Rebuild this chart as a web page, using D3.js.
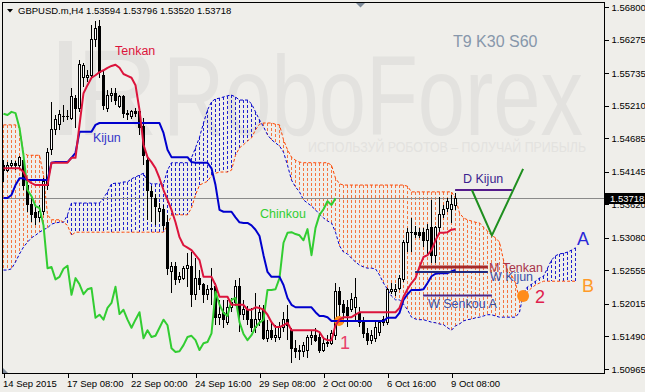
<!DOCTYPE html>
<html>
<head>
<meta charset="utf-8">
<script src="https://cdn.jsdelivr.net/npm/d3@7"></script>
<style>
  body { margin: 0; background: #efeeea; }
  svg { display: block; }
  text { font-family: "Liberation Sans", Arial, sans-serif; }
</style>
</head>
<body>
<div id="chart"></div>
<script>
// GBPUSD H4 bars, one entry per bar (14 Sep 2015 -> 9 Oct 2015)
var opens = [
  1.5424, 1.5417, 1.5424, 1.5427, 1.5424, 1.5433, 1.5393, 1.5361, 1.5348, 1.5340,
  1.5350, 1.5393, 1.5450, 1.5482, 1.5491, 1.5504, 1.5503, 1.5501, 1.5533, 1.5517,
  1.5566, 1.5567, 1.5569, 1.5627, 1.5648, 1.5570, 1.5517, 1.5537, 1.5540, 1.5520,
  1.5535, 1.5508, 1.5503, 1.5511, 1.5511, 1.5488, 1.5433, 1.5382, 1.5372, 1.5350,
  1.5353, 1.5333, 1.5254, 1.5261, 1.5240, 1.5243, 1.5259, 1.5261, 1.5216, 1.5243,
  1.5233, 1.5216, 1.5224, 1.5229, 1.5179, 1.5187, 1.5172, 1.5195, 1.5203, 1.5229,
  1.5185, 1.5192, 1.5176, 1.5163, 1.5176, 1.5192, 1.5146, 1.5159, 1.5148, 1.5148,
  1.5164, 1.5176, 1.5159, 1.5130, 1.5127, 1.5124, 1.5127, 1.5148, 1.5150, 1.5148,
  1.5127, 1.5138, 1.5138, 1.5151, 1.5222, 1.5200, 1.5196, 1.5192, 1.5196, 1.5188,
  1.5172, 1.5154, 1.5143, 1.5146, 1.5156, 1.5171, 1.5172, 1.5222, 1.5221, 1.5227,
  1.5240, 1.5300, 1.5316, 1.5316, 1.5316, 1.5316, 1.5304, 1.5324, 1.5280, 1.5324,
  1.5345, 1.5356, 1.5354, 1.53594
];
var highs = [
  1.5433, 1.5430, 1.5433, 1.5432, 1.5440, 1.5440, 1.5398, 1.5372, 1.5361, 1.5361,
  1.5404, 1.5453, 1.5527, 1.5506, 1.5514, 1.5522, 1.5514, 1.5549, 1.5538, 1.5595,
  1.5590, 1.5578, 1.5651, 1.5657, 1.5659, 1.5578, 1.5546, 1.5549, 1.5549, 1.5538,
  1.5538, 1.5514, 1.5514, 1.5517, 1.5517, 1.5501, 1.5437, 1.5391, 1.5379, 1.5364,
  1.5361, 1.5345, 1.5269, 1.5269, 1.5253, 1.5263, 1.5283, 1.5285, 1.5275, 1.5256,
  1.5235, 1.5232, 1.5259, 1.5235, 1.5208, 1.5208, 1.5208, 1.5211, 1.5240, 1.5243,
  1.5208, 1.5198, 1.5195, 1.5219, 1.5200, 1.5200, 1.5176, 1.5172, 1.5167, 1.5172,
  1.5188, 1.5200, 1.5163, 1.5143, 1.5135, 1.5140, 1.5151, 1.5159, 1.5163, 1.5154,
  1.5146, 1.5151, 1.5159, 1.5235, 1.5229, 1.5208, 1.5208, 1.5219, 1.5243, 1.5196,
  1.5180, 1.5163, 1.5159, 1.5172, 1.5176, 1.5182, 1.5227, 1.5235, 1.5233, 1.5248,
  1.5304, 1.5324, 1.5340, 1.5327, 1.5324, 1.5324, 1.5330, 1.5369, 1.5327, 1.5374,
  1.5361, 1.5372, 1.5377, 1.53796
];
var lows = [
  1.5398, 1.5414, 1.5420, 1.5417, 1.5420, 1.5385, 1.5350, 1.5333, 1.5328, 1.5333,
  1.5345, 1.5385, 1.5441, 1.5474, 1.5482, 1.5495, 1.5498, 1.5498, 1.5485, 1.5511,
  1.5551, 1.5559, 1.5566, 1.5616, 1.5566, 1.5514, 1.5511, 1.5527, 1.5522, 1.5517,
  1.5501, 1.5498, 1.5499, 1.5503, 1.5474, 1.5425, 1.5337, 1.5333, 1.5328, 1.5333,
  1.5321, 1.5248, 1.5219, 1.5232, 1.5235, 1.5240, 1.5229, 1.5196, 1.5208, 1.5224,
  1.5203, 1.5208, 1.5200, 1.5167, 1.5167, 1.5163, 1.5167, 1.5188, 1.5198, 1.5156,
  1.5176, 1.5167, 1.5156, 1.5154, 1.5166, 1.5143, 1.5140, 1.5143, 1.5140, 1.5143,
  1.5156, 1.5143, 1.5106, 1.5114, 1.5111, 1.5116, 1.5114, 1.5135, 1.5140, 1.5122,
  1.5124, 1.5132, 1.5135, 1.5143, 1.5180, 1.5171, 1.5164, 1.5188, 1.5176, 1.5164,
  1.5146, 1.5135, 1.5137, 1.5140, 1.5150, 1.5166, 1.5167, 1.5217, 1.5214, 1.5224,
  1.5237, 1.5285, 1.5285, 1.5308, 1.5308, 1.5293, 1.5280, 1.5267, 1.5267, 1.5317,
  1.5340, 1.5350, 1.5332, 1.53520
];
var closes = [
  1.5417, 1.5424, 1.5427, 1.5424, 1.5437, 1.5393, 1.5361, 1.5345, 1.5340, 1.5351,
  1.5398, 1.5446, 1.5482, 1.5498, 1.5506, 1.5504, 1.5504, 1.5535, 1.5517, 1.5587,
  1.5585, 1.5570, 1.5627, 1.5646, 1.5574, 1.5522, 1.5538, 1.5540, 1.5530, 1.5535,
  1.5508, 1.5506, 1.5511, 1.5509, 1.5485, 1.5441, 1.5385, 1.5375, 1.5359, 1.5356,
  1.5328, 1.5259, 1.5261, 1.5241, 1.5245, 1.5258, 1.5263, 1.5216, 1.5243, 1.5233,
  1.5217, 1.5225, 1.5227, 1.5179, 1.5184, 1.5176, 1.5195, 1.5203, 1.5229, 1.5185,
  1.5192, 1.5176, 1.5163, 1.5176, 1.5188, 1.5146, 1.5159, 1.5148, 1.5150, 1.5163,
  1.5176, 1.5167, 1.5130, 1.5124, 1.5125, 1.5135, 1.5148, 1.5150, 1.5143, 1.5127,
  1.5138, 1.5140, 1.5154, 1.5221, 1.5200, 1.5187, 1.5182, 1.5208, 1.5211, 1.5172,
  1.5153, 1.5143, 1.5151, 1.5164, 1.5171, 1.5176, 1.5224, 1.5224, 1.5225, 1.5243,
  1.5300, 1.5316, 1.5317, 1.5314, 1.5312, 1.5304, 1.5322, 1.5280, 1.5324, 1.5345,
  1.5354, 1.5367, 1.5361, 1.53718
];

// Ichimoku (9, 30, 60)
var tenkan = [
  1.5420, 1.5420, 1.5420, 1.5420, 1.5420, 1.5414, 1.5401, 1.5396, 1.5393, 1.5393,
  1.5393, 1.5393, 1.5429, 1.5429, 1.5429, 1.5429, 1.5429, 1.5437, 1.5437, 1.5490,
  1.5541, 1.5554, 1.5566, 1.5570, 1.5575, 1.5578, 1.5582, 1.5585, 1.5587, 1.5582,
  1.5572, 1.5569, 1.5566, 1.5554, 1.5514, 1.5458, 1.5438, 1.5430, 1.5420, 1.5404,
  1.5385, 1.5369, 1.5353, 1.5333, 1.5309, 1.5296, 1.5292, 1.5288, 1.5280, 1.5272,
  1.5245, 1.5245, 1.5245, 1.5232, 1.5213, 1.5213, 1.5213, 1.5200, 1.5200, 1.5200,
  1.5200, 1.5192, 1.5192, 1.5196, 1.5195, 1.5192, 1.5184, 1.5172, 1.5164, 1.5164,
  1.5167, 1.5171, 1.5159, 1.5159, 1.5159, 1.5159, 1.5159, 1.5159, 1.5159, 1.5156,
  1.5146, 1.5143, 1.5143, 1.5167, 1.5176, 1.5180, 1.5180, 1.5180, 1.5184, 1.5188,
  1.5188, 1.5188, 1.5188, 1.5188, 1.5188, 1.5188, 1.5188, 1.5188, 1.5188, 1.5195,
  1.5213, 1.5225, 1.5235, 1.5243, 1.5261, 1.5277, 1.5280, 1.5288, 1.5304, 1.5316,
  1.5316, 1.5317, 1.5321, 1.5322
];
var kijun = [
  1.5372, 1.5372, 1.5377, 1.5393, 1.5404, 1.5404, 1.5401, 1.5401, 1.5401, 1.5401,
  1.5401, 1.5401, 1.5429, 1.5430, 1.5430, 1.5430, 1.5430, 1.5437, 1.5445, 1.5479,
  1.5479, 1.5479, 1.5479, 1.5490, 1.5493, 1.5493, 1.5493, 1.5493, 1.5493, 1.5493,
  1.5493, 1.5493, 1.5493, 1.5493, 1.5493, 1.5493, 1.5493, 1.5493, 1.5493, 1.5493,
  1.5477, 1.5450, 1.5438, 1.5438, 1.5438, 1.5438, 1.5438, 1.5430, 1.5429, 1.5429,
  1.5429, 1.5429, 1.5420, 1.5393, 1.5353, 1.5350, 1.5350, 1.5350, 1.5341, 1.5333,
  1.5332, 1.5332, 1.5328, 1.5321, 1.5311, 1.5280, 1.5253, 1.5245, 1.5245, 1.5245,
  1.5232, 1.5211, 1.5200, 1.5196, 1.5196, 1.5196, 1.5196, 1.5196, 1.5188, 1.5182,
  1.5182, 1.5180, 1.5174, 1.5174, 1.5174, 1.5174, 1.5174, 1.5174, 1.5174, 1.5174,
  1.5174, 1.5174, 1.5174, 1.5174, 1.5174, 1.5174, 1.5179, 1.5179, 1.5179, 1.5187,
  1.5208, 1.5217, 1.5224, 1.5224, 1.5224, 1.5225, 1.5235, 1.5246, 1.5250, 1.5251,
  1.5251, 1.5251, 1.5254, 1.5256
];
// spans already shifted 30 bars forward (so 30 values beyond the last bar)
var senkouA = [
  1.5256, 1.5256, 1.5258, 1.5269, 1.5282, 1.5293, 1.5301, 1.5308, 1.5312, 1.5317,
  1.5321, 1.5324, 1.5330, 1.5332, 1.5333, 1.5333, 1.5345, 1.5364, 1.5364, 1.5364,
  1.5364, 1.5364, 1.5364, 1.5364, 1.5364, 1.5372, 1.5382, 1.5395, 1.5396, 1.5396,
  1.5398, 1.5398, 1.5403, 1.5406, 1.5409, 1.5412, 1.5398, 1.5395, 1.5395, 1.5395,
  1.5395, 1.5417, 1.5429, 1.5429, 1.5429, 1.5429, 1.5429, 1.5437, 1.5453, 1.5470,
  1.5493, 1.5514, 1.5527, 1.5532, 1.5533, 1.5535, 1.5537, 1.5538, 1.5535, 1.5530,
  1.5530, 1.5530, 1.5524, 1.5511, 1.5498, 1.5487, 1.5474, 1.5466, 1.5461, 1.5456,
  1.5446, 1.5425, 1.5401, 1.5390, 1.5382, 1.5369, 1.5364, 1.5359, 1.5353, 1.5346,
  1.5340, 1.5335, 1.5332, 1.5317, 1.5295, 1.5285, 1.5282, 1.5275, 1.5269, 1.5264,
  1.5261, 1.5259, 1.5259, 1.5258, 1.5248, 1.5235, 1.5225, 1.5214, 1.5208, 1.5208,
  1.5201, 1.5192, 1.5180, 1.5177, 1.5176, 1.5176, 1.5174, 1.5172, 1.5171, 1.5169,
  1.5168, 1.5163, 1.5159, 1.5166, 1.5169, 1.5174, 1.5176, 1.5177, 1.5179, 1.5180,
  1.5182, 1.5184, 1.5184, 1.5182, 1.5180, 1.5180, 1.5180, 1.5180, 1.5180, 1.5188,
  1.5219, 1.5229, 1.5233, 1.5238, 1.5243, 1.5246, 1.5259, 1.5272, 1.5279, 1.5282,
  1.5283, 1.5285, 1.5288, 1.5292
];
var senkouB = [
  1.5490, 1.5490, 1.5490, 1.5490, 1.5485, 1.5445, 1.5441, 1.5441, 1.5441, 1.5441,
  1.5409, 1.5345, 1.5337, 1.5337, 1.5337, 1.5333, 1.5328, 1.5312, 1.5317, 1.5317,
  1.5317, 1.5317, 1.5317, 1.5317, 1.5317, 1.5317, 1.5317, 1.5317, 1.5317, 1.5317,
  1.5317, 1.5317, 1.5317, 1.5317, 1.5317, 1.5317, 1.5317, 1.5317, 1.5317, 1.5317,
  1.5317, 1.5328, 1.5345, 1.5345, 1.5345, 1.5345, 1.5345, 1.5356, 1.5377, 1.5393,
  1.5396, 1.5399, 1.5408, 1.5412, 1.5414, 1.5414, 1.5414, 1.5417, 1.5441, 1.5453,
  1.5458, 1.5464, 1.5469, 1.5482, 1.5491, 1.5493, 1.5493, 1.5493, 1.5491, 1.5490,
  1.5466, 1.5450, 1.5438, 1.5433, 1.5430, 1.5429, 1.5429, 1.5429, 1.5429, 1.5429,
  1.5429, 1.5429, 1.5425, 1.5404, 1.5395, 1.5393, 1.5393, 1.5393, 1.5393, 1.5393,
  1.5393, 1.5393, 1.5393, 1.5393, 1.5393, 1.5393, 1.5393, 1.5393, 1.5393, 1.5393,
  1.5393, 1.5391, 1.5382, 1.5382, 1.5382, 1.5382, 1.5382, 1.5382, 1.5382, 1.5382,
  1.5382, 1.5382, 1.5382, 1.5372, 1.5348, 1.5340, 1.5337, 1.5335, 1.5333, 1.5332,
  1.5325, 1.5319, 1.5312, 1.5308, 1.5301, 1.5272, 1.5256, 1.5248, 1.5235, 1.5208,
  1.5211, 1.5221, 1.5227, 1.5232, 1.5235, 1.5238, 1.5238, 1.5238, 1.5238, 1.5238,
  1.5238, 1.5238, 1.5238, 1.5238
];

var priceTicks = [1.56800, 1.56275, 1.55735, 1.55210, 1.54685, 1.54145,
                  1.53620, 1.53080, 1.52555, 1.52015, 1.51490, 1.50965];
var timeLabels = ["14 Sep 2015", "17 Sep 08:00", "22 Sep 00:00", "24 Sep 16:00",
                  "29 Sep 08:00", "2 Oct 00:00", "6 Oct 16:00", "9 Oct 08:00"];
var timeLabelBars = [0, 16, 32, 48, 64, 80, 96, 112];
var kijunPeriod = 30;

var W = 645, H = 392;
var plot = {left: 2.5, right: 604.5, top: 2.5, bottom: 373.5};

var svg = d3.select("#chart")
  .append("svg")
    .attr("width", W)
    .attr("height", H);

svg.append("rect")
  .attr("width", W).attr("height", H)
  .attr("fill", "#efeeea");

var x = d3.scaleLinear().domain([0, 150]).range([3.5, 603.5]);
var y = d3.scaleLinear().domain([1.50965, 1.56800]).range([369, 7]);

// watermark
var wm = svg.append("g").attr("fill", "#e3e2df");
wm.append("rect").attr("x", 59).attr("y", 41).attr("width", 13).attr("height", 94);
wm.append("text").attr("x", 76).attr("y", 135)
  .attr("font-size", 122).attr("textLength", 82).attr("lengthAdjust", "spacingAndGlyphs")
  .text("R");
wm.append("text").attr("x", 163).attr("y", 135)
  .attr("font-size", 114).attr("textLength", 420).attr("lengthAdjust", "spacingAndGlyphs")
  .text("RoboForex");
wm.append("text").attr("x", 308).attr("y", 152)
  .attr("font-size", 15).attr("textLength", 278).attr("lengthAdjust", "spacingAndGlyphs")
  .text("ИСПОЛЬЗУЙ РОБОТОВ – ПОЛУЧАЙ ПРИБЫЛЬ");

svg.append("text")
  .attr("x", 453).attr("y", 47)
  .attr("font-size", 16).attr("fill", "#8797ab")
  .text("T9 K30 S60");

// cloud: dotted hatch between the spans, coloured by the upper span
var blue = "#0000cd", orange = "#ff4500";
var cloud = senkouA.map(function(a, i) { return {i: i, a: a, b: senkouB[i]}; });

svg.append("g")
  .attr("shape-rendering", "crispEdges")
  .selectAll("line")
  .data(cloud)
  .enter()
  .append("line")
    .attr("x1", function(d) { return x(d.i); })
    .attr("x2", function(d) { return x(d.i); })
    .attr("y1", function(d) { return y(Math.max(d.a, d.b)); })
    .attr("y2", function(d) { return y(Math.min(d.a, d.b)); })
    .attr("stroke", function(d) { return d.a >= d.b ? "#2020cc" : "#f5743f"; })
    .attr("stroke-dasharray", "3,2");

var seriesLine = d3.line()
  .x(function(d, i) { return x(i); })
  .y(function(d) { return y(d); });

svg.append("path")
  .attr("d", seriesLine(senkouA))
  .attr("fill", "none").attr("stroke", blue).attr("stroke-dasharray", "3,2");
svg.append("path")
  .attr("d", seriesLine(senkouB))
  .attr("fill", "none").attr("stroke", orange).attr("stroke-dasharray", "3,2");

// bid line
var lastPrice = closes[closes.length - 1];
svg.append("line")
  .attr("x1", plot.left).attr("x2", plot.right)
  .attr("y1", Math.round(y(lastPrice)) + 0.5).attr("y2", Math.round(y(lastPrice)) + 0.5)
  .attr("stroke", "#8a8a8a");

// candles
var bars = opens.map(function(o, i) {
  return {i: i, o: o, h: highs[i], l: lows[i], c: closes[i]};
});
var cg = svg.append("g").attr("shape-rendering", "crispEdges");
cg.selectAll(".wick")
  .data(bars)
  .enter()
  .append("line")
    .attr("x1", function(d) { return x(d.i); })
    .attr("x2", function(d) { return x(d.i); })
    .attr("y1", function(d) { return y(d.h); })
    .attr("y2", function(d) { return y(d.l); })
    .attr("stroke", "#000");
cg.selectAll(".body")
  .data(bars)
  .enter()
  .append("rect")
    .attr("x", function(d) { return x(d.i) - 1; })
    .attr("width", 2)
    .attr("y", function(d) { return y(Math.max(d.o, d.c)); })
    .attr("height", function(d) { return Math.max(0.5, Math.abs(y(d.o) - y(d.c))); })
    .attr("fill", function(d) { return d.c >= d.o ? "#fff" : "#000"; })
    .attr("stroke", "#000");

// orange markers under the lines
var dots = [{bar: 83.9, price: 1.5174, r: 5}, {bar: 129.9, price: 1.5214, r: 6}];
svg.selectAll(".dot")
  .data(dots)
  .enter()
  .append("circle")
    .attr("cx", function(d) { return x(d.bar); })
    .attr("cy", function(d) { return y(d.price); })
    .attr("r", function(d) { return d.r; })
    .attr("fill", "#ff8c1a");

// chinkou = close plotted kijunPeriod bars back
var chinkou = closes.slice(kijunPeriod);

[[chinkou, "#32cd32"], [kijun, blue], [tenkan, "#dc143c"]].forEach(function(s) {
  svg.append("path")
    .attr("d", seriesLine(s[0]))
    .attr("fill", "none")
    .attr("stroke", s[1])
    .attr("stroke-width", 2)
    .attr("stroke-linejoin", "round");
});

// analyst annotations
var levels = [
  {price: 1.5385, from: 112.9, to: 127.1, color: "#551a8b", w: 2},
  {price: 1.5261, from: 104.1, to: 121.1, color: "#a52a2a", w: 3},
  {price: 1.5253, from: 102.9, to: 121.1, color: "#1f2a80", w: 2},
  {price: 1.5215, from: 104.9, to: 122.1, color: "#4b2a8c", w: 2}
];
svg.selectAll(".level")
  .data(levels)
  .enter()
  .append("line")
    .attr("x1", function(d) { return x(d.from); })
    .attr("x2", function(d) { return x(d.to); })
    .attr("y1", function(d) { return y(d.price); })
    .attr("y2", function(d) { return y(d.price); })
    .attr("stroke", function(d) { return d.color; })
    .attr("stroke-width", function(d) { return d.w; });

var vPath = [[117.1, 1.5385], [122.1, 1.5312], [129.9, 1.5419]];
svg.append("path")
  .attr("d", d3.line().x(function(d) { return x(d[0]); }).y(function(d) { return y(d[1]); })(vPath))
  .attr("fill", "none")
  .attr("stroke", "#1f8f1f")
  .attr("stroke-width", 2);

var notes = [
  {t: "Tenkan", x: 115, y: 55, s: 12.5, c: "#dc143c"},
  {t: "Kijun", x: 93, y: 142, s: 12.5, c: "#3535c8"},
  {t: "Chinkou", x: 260, y: 218, s: 12.5, c: "#32cd32"},
  {t: "D Kijun", x: 463, y: 183, s: 12.5, c: "#3b1e8f"},
  {t: "M Tenkan", x: 489, y: 272, s: 12.5, c: "#a8344a"},
  {t: "W Kijun", x: 490, y: 281, s: 12.5, c: "#3c50a8"},
  {t: "W Senkou A", x: 428, y: 308, s: 12.5, c: "#3c50a8"},
  {t: "A", x: 577, y: 245, s: 18, c: "#2828d8"},
  {t: "B", x: 582, y: 292, s: 18, c: "#ff9a28"},
  {t: "2", x: 535, y: 303, s: 18, c: "#e0204c"},
  {t: "1", x: 340, y: 349, s: 18, c: "#e8406a"}
];
svg.selectAll(".note")
  .data(notes)
  .enter()
  .append("text")
    .attr("x", function(d) { return d.x; })
    .attr("y", function(d) { return d.y; })
    .attr("font-size", function(d) { return d.s; })
    .attr("fill", function(d) { return d.c; })
    .text(function(d) { return d.t; });

// axes
var yAxis = svg.append("g")
  .attr("transform", "translate(" + plot.right + ",0)")
  .call(d3.axisRight(y).tickValues(priceTicks).tickFormat(d3.format(".5f")).tickSize(4));
var xAxis = svg.append("g")
  .attr("transform", "translate(0," + plot.bottom + ")")
  .call(d3.axisBottom(x).tickValues(timeLabelBars)
    .tickFormat(function(d, i) { return timeLabels[i]; }).tickSize(4));
[yAxis, xAxis].forEach(function(a) {
  a.select(".domain").remove();
  a.selectAll("line").attr("stroke", "#000").attr("shape-rendering", "crispEdges");
  a.selectAll("text")
    .attr("fill", "#000")
    .style("font-family", "'Liberation Sans', Arial, sans-serif")
    .style("font-size", "9.5px");
});
xAxis.selectAll("text").attr("text-anchor", "start").attr("x", -1);

// current price tag
var tagY = y(lastPrice);
svg.append("rect")
  .attr("x", 605).attr("y", Math.round(tagY) - 5)
  .attr("width", 40).attr("height", 11)
  .attr("fill", "#000");
svg.append("text")
  .attr("x", 610).attr("y", Math.round(tagY) + 4)
  .attr("font-size", 9.5).attr("fill", "#fff")
  .text(d3.format(".5f")(lastPrice));

// frame
svg.append("rect")
  .attr("x", plot.left).attr("y", plot.top)
  .attr("width", plot.right - plot.left).attr("height", plot.bottom - plot.top)
  .attr("fill", "none").attr("stroke", "#000")
  .attr("shape-rendering", "crispEdges");

svg.append("path").attr("d", "M356,3L365,3L360.5,7.5Z").attr("fill", "#7d8a99");
svg.append("path").attr("d", "M3,368L3,373L8,373Z").attr("fill", "#7d8a99");

// header
var last = bars[bars.length - 1];
svg.append("path").attr("d", "M7,9L13,9L10,12.5Z").attr("fill", "#000");
svg.append("text")
  .attr("x", 18).attr("y", 14)
  .attr("font-size", 9.5).attr("fill", "#000")
  .text("GBPUSD.m,H4  " + [last.o, last.h, last.l, last.c].map(d3.format(".5f")).join(" "));
</script>
</body>
</html>
